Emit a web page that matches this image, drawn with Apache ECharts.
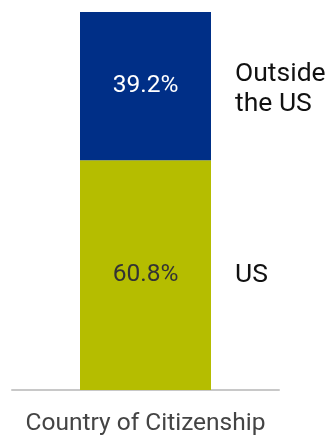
<!DOCTYPE html>
<html><head><meta charset="utf-8">
<script src="https://cdn.jsdelivr.net/npm/echarts@6/dist/echarts.min.js"></script>
<style>html,body{margin:0;padding:0;background:#fff}#c{width:331px;height:436px}</style>
</head><body><div id="c"></div>
<script>
const categories = ['Country of Citizenship'];
const seriesNames = ['US', 'Outside\nthe US'];
const usValues = [60.8];
const outsideValues = [39.2];
const colors = ['#B5BD00', '#002F87'];

const chart = echarts.init(document.getElementById('c'));
const insideLabel = (color) => ({
  show: true, position: 'inside', color: color, fontFamily: 'Roboto', fontSize: 24.5,
  formatter: p => p.value.toFixed(1) + '%'
});
const sideLabel = (name, dy) => ({
  show: true, position: 'right', distance: 24, color: '#111', fontFamily: 'Roboto', fontSize: 26.5,
  lineHeight: 30, align: 'left', offset: [0, dy], formatter: () => name
});
chart.setOption({
  animation: false,
  grid: { left: 12, right: 52, top: 12, bottom: 43, containLabel: false },
  xAxis: {
    type: 'category', data: categories,
    axisLine: { show: true, lineStyle: { color: '#c8c8c8', width: 2 } },
    axisTick: { show: false },
    axisLabel: { color: '#444', fontFamily: 'Roboto', fontSize: 24.5, margin: 21 }
  },
  yAxis: { type: 'value', min: 0, max: 100, show: false },
  series: [
    { name: seriesNames[0], type: 'bar', stack: 'a', data: usValues, barWidth: 131,
      itemStyle: { color: colors[0] }, label: insideLabel('#333') },
    { name: seriesNames[1], type: 'bar', stack: 'a', data: outsideValues, barWidth: 131,
      itemStyle: { color: colors[1] }, label: insideLabel('#fff') },
    { type: 'bar', stack: 'b', data: usValues, barWidth: 131, barGap: '-100%', silent: true,
      itemStyle: { color: 'rgba(0,0,0,0)' }, label: sideLabel('US', 0) },
    { type: 'bar', stack: 'b', data: outsideValues, barWidth: 131, barGap: '-100%', silent: true,
      itemStyle: { color: 'rgba(0,0,0,0)' }, label: sideLabel(seriesNames[1], 3) }
  ]
});
</script></body></html>
